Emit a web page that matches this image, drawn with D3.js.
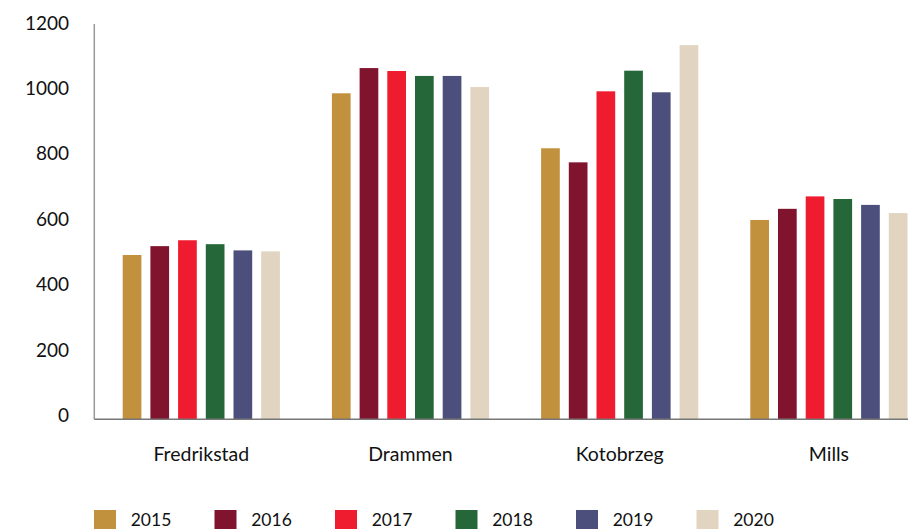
<!DOCTYPE html>
<html>
<head>
<meta charset="utf-8">
<script src="https://cdn.jsdelivr.net/npm/d3@7"></script>
<style>
  html, body { margin: 0; padding: 0; background: #fff; }
  svg { display: block; }
  text { font-family: Lato, "Open Sans", sans-serif; fill: #111; }
</style>
</head>
<body>
<svg id="chart" width="908" height="529"></svg>
<script>
const categories = ["Fredrikstad", "Drammen", "Kotobrzeg", "Mills"];
const years = ["2015", "2016", "2017", "2018", "2019", "2020"];
const values2015 = [502, 996, 828, 609];
const values2016 = [529, 1073, 785, 643];
const values2017 = [547, 1064, 1002, 681];
const values2018 = [535, 1049, 1065, 673];
const values2019 = [516, 1049, 999, 655];
const values2020 = [513, 1015, 1143, 630];
const colors = ["#C1913D", "#80142E", "#EE1C2E", "#26673A", "#4C4F7B", "#E1D4C0"];
const yTicks = [0, 200, 400, 600, 800, 1000, 1200];

const series = [values2015, values2016, values2017, values2018, values2019, values2020];

const svg = d3.select("#chart");

const y = d3.scaleLinear().domain([0, 1200]).range([419.3, 26.5]);
const x0 = d3.scaleBand().domain(categories).range([96.7, 96.7 + 4 * 209.2]).padding(0);
const x1 = d3.scaleBand().domain(years).range([21.5, 187.7]).paddingInner(0.325).paddingOuter(0.1625);

// bars
const groups = svg.append("g").selectAll("g")
  .data(categories)
  .join("g")
  .attr("transform", d => `translate(${x0(d)},0)`);

groups.selectAll("rect")
  .data((c, ci) => years.map((yr, si) => ({ yr, si, v: series[si][ci] })))
  .join("rect")
  .attr("x", d => x1(d.yr))
  .attr("width", x1.bandwidth())
  .attr("y", d => y(d.v))
  .attr("height", d => y(0) - y(d.v))
  .attr("fill", d => colors[d.si]);

// y axis line
svg.append("line")
  .attr("x1", 94.3).attr("x2", 94.3)
  .attr("y1", 24).attr("y2", y(0))
  .attr("stroke", "#999").attr("stroke-width", 1.5);

// baseline
svg.append("line")
  .attr("x1", 94.3).attr("x2", 908)
  .attr("y1", y(0)).attr("y2", y(0))
  .attr("stroke", "#777").attr("stroke-width", 1.5);

// y tick labels
svg.append("g").selectAll("text")
  .data(yTicks)
  .join("text")
  .attr("x", 69)
  .attr("y", d => y(d) + 3)
  .attr("text-anchor", "end")
  .style("font-size", "19px")
  .text(d => d);

// category labels
svg.append("g").selectAll("text")
  .data(categories)
  .join("text")
  .attr("x", d => x0(d) + x0.bandwidth() / 2)
  .attr("y", 461)
  .attr("text-anchor", "middle")
  .style("font-size", "19.5px")
  .text(d => d);

// legend
const legend = svg.append("g").selectAll("g")
  .data(years)
  .join("g")
  .attr("transform", (d, i) => `translate(${94 + i * 120.5},510)`);
legend.append("rect")
  .attr("width", 22).attr("height", 22)
  .attr("fill", (d, i) => colors[i]);
legend.append("text")
  .attr("x", 36.7)
  .attr("y", 15.5)
  .style("font-size", "17.5px")
  .text(d => d);
</script>
</body>
</html>
